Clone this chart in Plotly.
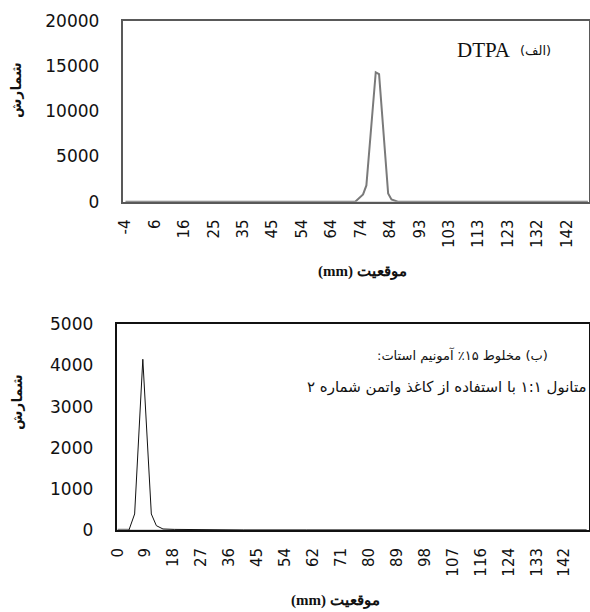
import numpy as np
import plotly.graph_objects as go

# ---- data: top panel (a) DTPA ----
top_x = [-4, 60, 72, 74.6, 75.7, 78.8, 79.9, 82.9, 84.0, 86.1, 93, 120, 149]
top_y = [0, 0, 0, 800, 1800, 14300, 14100, 900, 250, 0, 0, 0, 0]
top_ticklabels = ["-4", "6", "16", "25", "35", "45", "54", "64", "74", "84",
                  "93", "103", "113", "123", "132", "142"]
top_yticks = [0, 5000, 10000, 15000, 20000]

# ---- data: bottom panel (b) ----
bot_x = [0, 3.6, 5.4, 8.0, 10.7, 12.3, 14.4, 18, 22, 26, 30, 34, 40, 60, 100, 149]
bot_y = [0, 0, 390, 4150, 390, 105, 25, 15, 10, 12, 8, 5, 0, 0, 0, 0]
bot_ticklabels = ["0", "9", "18", "27", "36", "45", "54", "62", "71", "80",
                  "89", "98", "107", "116", "124", "133", "142"]
bot_yticks = [0, 1000, 2000, 3000, 4000, 5000]

W, H = 590, 612

def px_x(p):
    return p / W

def px_y(p):
    return 1 - p / H

top_tickvals = np.linspace(float(top_ticklabels[0]), float(top_ticklabels[-1]), len(top_ticklabels))
bot_tickvals = np.linspace(float(bot_ticklabels[0]), float(bot_ticklabels[-1]), len(bot_ticklabels))

fig = go.Figure()

# top baseline (light gray) + series
fig.add_trace(go.Scatter(x=[top_x[0], top_x[-1]], y=[0, 0], mode="lines",
                         line=dict(color="#d0d0d0", width=1.5), xaxis="x", yaxis="y",
                         showlegend=False, hoverinfo="skip"))
fig.add_trace(go.Scatter(x=top_x, y=top_y, mode="lines",
                         line=dict(color="#7a7a7a", width=2), xaxis="x", yaxis="y",
                         showlegend=False))

# bottom baseline + series
fig.add_trace(go.Scatter(x=[bot_x[0], bot_x[-1]], y=[0, 0], mode="lines",
                         line=dict(color="#c8c8c8", width=1.5), xaxis="x2", yaxis="y2",
                         showlegend=False, hoverinfo="skip"))
fig.add_trace(go.Scatter(x=bot_x[:2], y=bot_y[:2], mode="lines",
                         line=dict(color="#808080", width=2.5), xaxis="x2", yaxis="y2",
                         showlegend=False, hoverinfo="skip"))
fig.add_trace(go.Scatter(x=bot_x[1:], y=bot_y[1:], mode="lines",
                         line=dict(color="#111111", width=1), xaxis="x2", yaxis="y2",
                         showlegend=False))

tickfont_y = dict(family="DejaVu Sans", size=17, color="#111111")
tickfont_x = dict(family="DejaVu Sans", size=15, color="#111111")

fig.update_layout(
    width=W, height=H,
    margin=dict(l=0, r=0, t=0, b=0, pad=0, autoexpand=False),
    paper_bgcolor="white", plot_bgcolor="white",
    xaxis=dict(domain=[px_x(122.5), px_x(588.5)], range=[-5.0, 149.2],
               tickmode="array", tickvals=top_tickvals, ticktext=top_ticklabels,
               tickangle=-90, tickfont=tickfont_x, ticks="", showgrid=False,
               zeroline=False, showline=True, mirror=True, linecolor="#595959",
               linewidth=1.5, ticklabelstandoff=10, anchor="y", automargin=False),
    yaxis=dict(domain=[px_y(201.7), px_y(20.7)], range=[0, 20000],
               tickmode="array", tickvals=top_yticks,
               ticktext=[str(v) for v in top_yticks], tickfont=tickfont_y, ticks="",
               showgrid=False, zeroline=False, showline=True, mirror=True,
               linecolor="#595959", linewidth=1.5, ticklabelstandoff=18, anchor="x",
               automargin=False),
    xaxis2=dict(domain=[px_x(116.7), px_x(588.5)], range=[-0.3, 149.6],
                tickmode="array", tickvals=bot_tickvals, ticktext=bot_ticklabels,
                tickangle=-90, tickfont=tickfont_x, ticks="", showgrid=False,
                zeroline=False, showline=True, mirror=True, linecolor="#111111",
                linewidth=2, ticklabelstandoff=10, anchor="y2", automargin=False),
    yaxis2=dict(domain=[px_y(530), px_y(324.3)], range=[0, 5000],
                tickmode="array", tickvals=bot_yticks,
                ticktext=[str(v) for v in bot_yticks], tickfont=tickfont_y, ticks="",
                showgrid=False, zeroline=False, showline=True, mirror=True,
                linecolor="#111111", linewidth=2, ticklabelstandoff=18, anchor="x2",
                automargin=False),
)

def note(text, x, y, font, angle=0):
    return dict(text=text, x=px_x(x), y=px_y(y), xref="paper", yref="paper",
                xanchor="center", yanchor="middle", textangle=angle,
                showarrow=False, font=font)

serif_b = dict(family="Liberation Serif", size=15, color="#111111")
ann = [
    note("<b>(mm) موقعیت</b>", 362, 271, serif_b),
    note("<b>(mm) موقعیت</b>", 335, 600, serif_b),
    note("<b>شمارش</b>", 16, 90, dict(family="DejaVu Sans", size=14, color="#111111"), -90),
    note("<b>شمارش</b>", 17, 402, dict(family="DejaVu Sans", size=14, color="#111111"), -90),
    note("DTPA", 484, 50, dict(family="Liberation Serif", size=21, color="#111111")),
    note("(الف)", 535, 50, dict(family="DejaVu Sans", size=13, color="#111111")),
]
RLM = "\u200f"
ann.append(note(RLM + "(ب) مخلوط ۱۵٪ آمونیم استات:" + RLM, 462, 355,
                dict(family="DejaVu Sans", size=13, color="#111111")))
ann.append(note(RLM + "متانول ۱:۱ با استفاده از کاغذ واتمن شماره ۲" + RLM, 446, 387,
                dict(family="DejaVu Sans", size=15, color="#111111")))
fig.update_layout(annotations=ann)

fig.write_html("out.html")
